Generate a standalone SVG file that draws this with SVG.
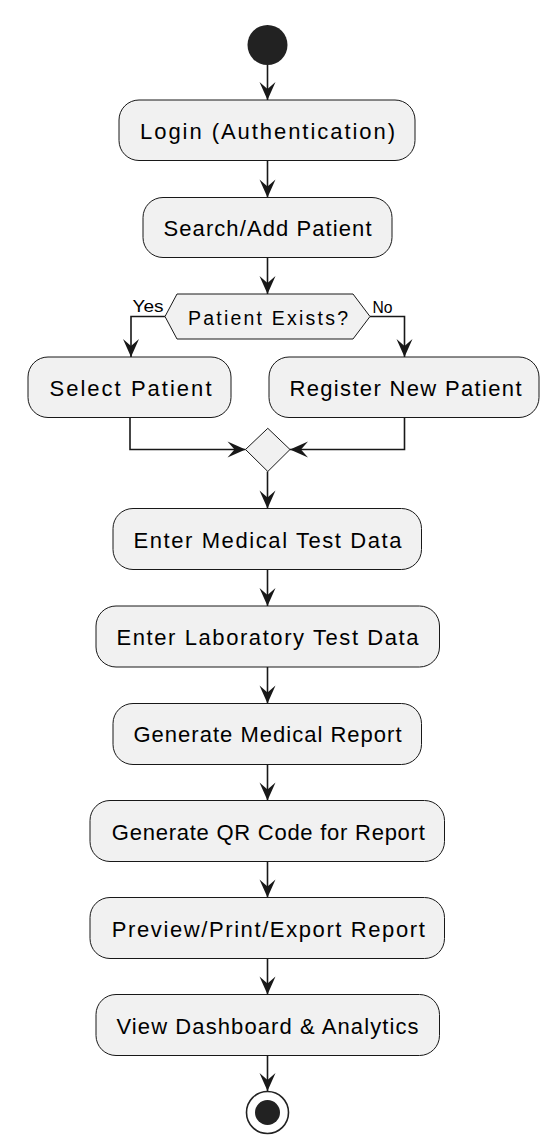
<svg xmlns="http://www.w3.org/2000/svg" width="553" height="1142" viewBox="0 0 553 1142">
<defs>
<style>
.box{fill:#F1F1F1;stroke:#181818;stroke-width:1}
.t{font-family:"Liberation Sans",Arial,sans-serif;font-size:22px;fill:#000;text-anchor:middle}
.d{font-family:"Liberation Sans",Arial,sans-serif;font-size:19.5px;fill:#000;text-anchor:middle}
.lbl{font-family:"Liberation Sans",Arial,sans-serif;font-size:16px;fill:#000}
.c{fill:none;stroke:#181818;stroke-width:1.6}
</style>
<marker id="ah" viewBox="-19 -9 20 18" refX="0" refY="0" markerWidth="20" markerHeight="18" markerUnits="userSpaceOnUse" orient="auto">
<path d="M0,0 L-18,-8 L-11,0 L-18,8 Z" fill="#181818"/>
</marker>
</defs>
<rect width="553" height="1142" fill="#fff"/>

<g id="connectors">
<path class="c" d="M267.5,65 V100" marker-end="url(#ah)"/>
<path class="c" d="M267.5,160.5 V197.5" marker-end="url(#ah)"/>
<path class="c" d="M267.5,257.5 V294" marker-end="url(#ah)"/>
<path class="c" d="M165,316.5 H131 V357" marker-end="url(#ah)"/>
<path class="c" d="M370,316.5 H404.5 V357" marker-end="url(#ah)"/>
<path class="c" d="M130,417.5 V449.5 H245.5" marker-end="url(#ah)"/>
<path class="c" d="M404.5,417.5 V449.5 H290" marker-end="url(#ah)"/>
<path class="c" d="M267.5,471.5 V508.5" marker-end="url(#ah)"/>
<path class="c" d="M267.5,569.5 V606" marker-end="url(#ah)"/>
<path class="c" d="M267.5,667 V703.5" marker-end="url(#ah)"/>
<path class="c" d="M267.5,764.5 V800.5" marker-end="url(#ah)"/>
<path class="c" d="M267.5,861.5 V897.5" marker-end="url(#ah)"/>
<path class="c" d="M267.5,958.5 V994.5" marker-end="url(#ah)"/>
<path class="c" d="M267.5,1055.5 V1091" marker-end="url(#ah)"/>
<text class="lbl" x="132.5" y="312" textLength="31" lengthAdjust="spacingAndGlyphs">Yes</text>
<text class="lbl" x="372.5" y="313" textLength="20" lengthAdjust="spacingAndGlyphs">No</text>
</g>

<g id="start"><circle cx="267.5" cy="45" r="20" fill="#222"/></g>

<g id="login"><rect class="box" x="119" y="100" width="296" height="60.5" rx="20"/><text class="t" x="267.5" y="139" textLength="255">Login (Authentication)</text></g>
<g id="search"><rect class="box" x="143" y="197.5" width="249" height="60" rx="20"/><text class="t" x="267.5" y="236" textLength="208">Search/Add Patient</text></g>
<g id="exists"><polygon class="box" points="165,316.5 177,294 353,294 370,316.5 353,339 177,339"/><text class="d" x="268" y="325" textLength="160">Patient Exists?</text></g>
<g id="select"><rect class="box" x="28" y="357" width="203" height="60.5" rx="20"/><text class="t" x="130.5" y="395.5" textLength="162">Select Patient</text></g>
<g id="register"><rect class="box" x="269" y="357" width="270" height="60.5" rx="20"/><text class="t" x="405.5" y="395.5" textLength="232">Register New Patient</text></g>
<g id="merge"><polygon class="box" points="245.5,449.5 267.8,428.3 290,449.5 267.8,471.5"/></g>
<g id="medical"><rect class="box" x="113" y="508.5" width="308.5" height="61" rx="20"/><text class="t" x="267.5" y="548" textLength="268">Enter Medical Test Data</text></g>
<g id="lab"><rect class="box" x="96" y="606" width="343.5" height="61" rx="20"/><text class="t" x="267.5" y="645" textLength="302">Enter Laboratory Test Data</text></g>
<g id="report"><rect class="box" x="113" y="703.5" width="308.5" height="61" rx="20"/><text class="t" x="267.5" y="742" textLength="268">Generate Medical Report</text></g>
<g id="qr"><rect class="box" x="90" y="800.5" width="354.5" height="61" rx="20"/><text class="t" x="268.3" y="839.5" textLength="313">Generate QR Code for Report</text></g>
<g id="preview"><rect class="box" x="90" y="897.5" width="354.5" height="61" rx="20"/><text class="t" x="268.3" y="936.5" textLength="313">Preview/Print/Export Report</text></g>
<g id="dashboard"><rect class="box" x="96" y="994.5" width="343.5" height="61" rx="20"/><text class="t" x="267.5" y="1034" textLength="302">View Dashboard &amp; Analytics</text></g>
<g id="end"><circle cx="267.5" cy="1112.5" r="21" fill="none" stroke="#222" stroke-width="1.6"/><circle cx="267.5" cy="1112.5" r="12.5" fill="#222"/></g>
</svg>
